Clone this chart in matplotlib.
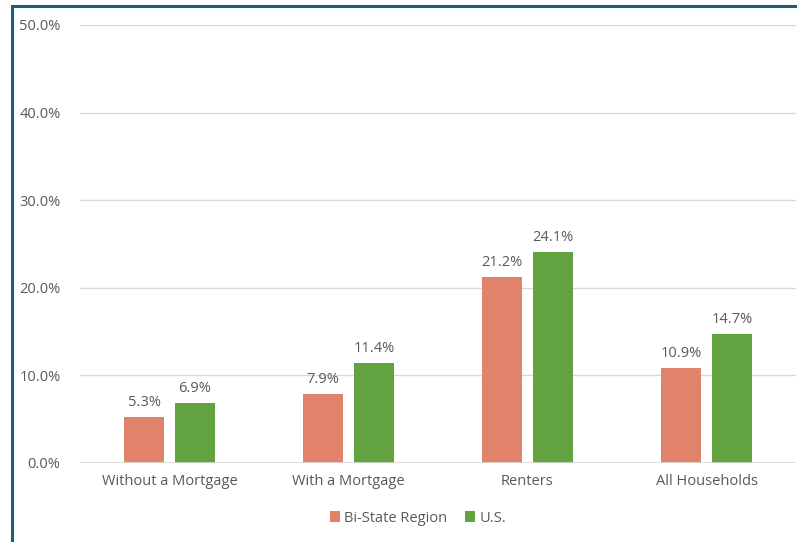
import matplotlib
matplotlib.use("Agg")
import matplotlib.pyplot as plt
from matplotlib.patches import Rectangle
import numpy as np

categories = ["Without a Mortgage", "With a Mortgage", "Renters", "All Households"]
bi_state = [5.3, 7.9, 21.2, 10.9]
us = [6.9, 11.4, 24.1, 14.7]
series_names = ["Bi-State Region", "U.S."]

ORANGE = "#E0836A"
GREEN = "#62A240"
TXT = "#595959"

plt.rcParams["font.family"] = ["Open Sans", "DejaVu Sans"]

fig = plt.figure(figsize=(7.97, 5.42), dpi=100)
ax = fig.add_axes([80 / 797, 79 / 542, 716 / 797, 438 / 542])

x = np.arange(len(categories))
w = 0.223
b1 = ax.bar(x - 0.142, bi_state, w, color=ORANGE, label=series_names[0], zorder=3)
b2 = ax.bar(x + 0.142, us, w, color=GREEN, label=series_names[1], zorder=3)
for bars, vals in ((b1, bi_state), (b2, us)):
    for r, v in zip(bars, vals):
        ax.annotate(f"{v:.1f}%", (r.get_x() + r.get_width() / 2, v), xytext=(0, 5),
                    textcoords="offset points", ha="center", va="bottom",
                    fontsize=10.5, color=TXT)

ax.set_xlim(-0.5, 3.5)
ax.set_ylim(0, 50)
ax.set_yticks(np.arange(0, 51, 10))
ax.set_yticklabels([f"{t:.1f}%" for t in np.arange(0, 51, 10)])
ax.set_xticks(x)
ax.set_xticklabels(categories)
ax.tick_params(length=0, labelsize=10.5, colors=TXT, pad=8)
ax.tick_params(axis="y", pad=14)
ax.grid(axis="y", color="#D9D9D9", lw=1, zorder=0)
for s in ax.spines.values():
    s.set_visible(False)
ax.axhline(0, color="#D9D9D9", lw=1.2, zorder=4)

ax.legend(loc="center", bbox_to_anchor=(418 / 797, 24 / 542), bbox_transform=fig.transFigure,
          ncol=2, frameon=False, fontsize=10.5, labelcolor=TXT, handlelength=0.7,
          handleheight=0.7, handletextpad=0.3, columnspacing=1.2)

# frame border (chart is cropped so only top and left edges show)
fig.patches.append(Rectangle((12 / 797, -0.1), 1.2, (542 - 6) / 542 + 0.1, transform=fig.transFigure,
                             fill=False, edgecolor="#1F5C80", lw=2.2, zorder=10))

fig.savefig("out.png", dpi=100)
